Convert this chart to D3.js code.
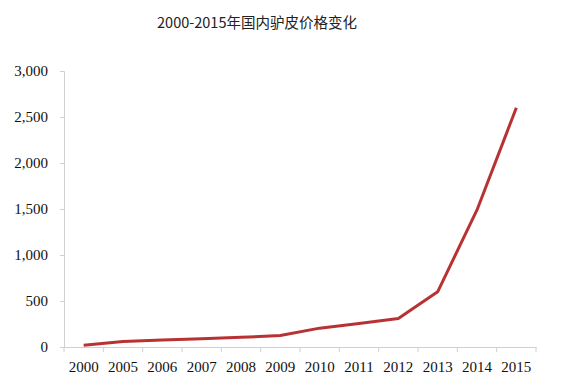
<!DOCTYPE html>
<html><head><meta charset="utf-8">
<script src="https://cdn.jsdelivr.net/npm/d3@7"></script>
<style>body{margin:0;background:#fff;}svg{display:block;}
.ax text{font-family:"Liberation Serif","Times New Roman",serif !important;font-size:15px;fill:#111;}</style>
</head><body>
<svg id="c" width="562" height="391"></svg>
<script>
const title = "2000-2015年国内驴皮价格变化";
const years = ["2000","2005","2006","2007","2008","2009","2010","2011","2012","2013","2014","2015"];
const prices = [20, 60, 75, 90, 105, 125, 205, 255, 310, 600, 1490, 2600];
const yTicks = [0, 500, 1000, 1500, 2000, 2500, 3000];

const svg = d3.select("#c");
const x = d3.scaleBand().domain(years).range([64, 536]);
const y = d3.scaleLinear().domain([0, 3000]).range([347, 71]);

svg.append("text").attr("x", 257).attr("y", 28).attr("text-anchor", "middle")
  .style("font-family", "'Noto Sans CJK SC', sans-serif").style("font-size", "14.5px")
  .attr("fill", "#222").text(title);

const fmt = d3.format(",");
const gy = svg.append("g").attr("class", "ax").attr("transform", "translate(64,0)")
  .call(d3.axisLeft(y).tickValues(yTicks).tickFormat(fmt).tickSize(4).tickPadding(12));
gy.attr("font-family", null);
gy.select(".domain").attr("stroke", "#d0d0d0");
gy.selectAll(".tick line").attr("stroke", "#d0d0d0");

const gx = svg.append("g").attr("class", "ax").attr("transform", "translate(0,347)")
  .call(d3.axisBottom(x).tickSize(0).tickPadding(14));
gx.attr("font-family", null);
gx.select(".domain").attr("stroke", "#d0d0d0");
// boundary tick marks
const bounds = years.map(d => x(d)).concat([x.range()[1]]);
svg.append("g").selectAll("line").data(bounds).join("line")
  .attr("x1", d => d).attr("x2", d => d).attr("y1", 347).attr("y2", 352)
  .attr("stroke", "#d0d0d0");

const line = d3.line().x((d, i) => x(years[i]) + x.bandwidth() / 2).y(d => y(d));
svg.append("path").datum(prices).attr("d", line).attr("fill", "none")
  .attr("stroke", "#b83234").attr("stroke-width", 3).attr("stroke-linejoin", "round");
</script>
</body></html>
